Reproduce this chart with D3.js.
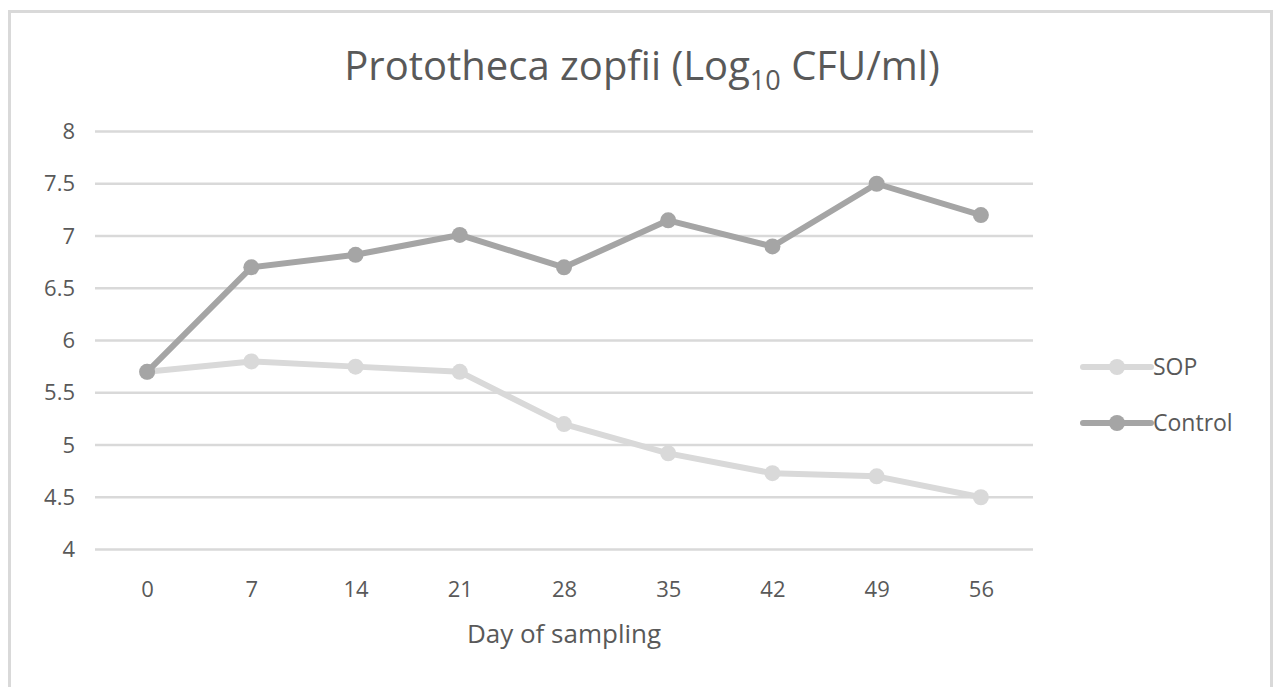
<!DOCTYPE html>
<html>
<head>
<meta charset="utf-8">
<script src="https://cdn.jsdelivr.net/npm/d3@7"></script>
<style>
  body { margin: 0; background: #fff; }
  text { font-family: "Open Sans", sans-serif; fill: #595959; }
</style>
</head>
<body>
<svg class="svg-chart" width="1274" height="687"></svg>
<script>
// chart values
var days = [0, 7, 14, 21, 28, 35, 42, 49, 56];
var sop = [5.7, 5.8, 5.75, 5.7, 5.2, 4.92, 4.73, 4.7, 4.5];
var control = [5.7, 6.7, 6.82, 7.01, 6.7, 7.15, 6.9, 7.5, 7.2];
var yTicks = [4, 4.5, 5, 5.5, 6, 6.5, 7, 7.5, 8];
var seriesNames = ["SOP", "Control"];
var seriesColors = ["#d9d9d9", "#a5a5a5"];

var svg = d3.select(".svg-chart");

// outer border
svg.append("rect")
  .attr("x", 9.5).attr("y", 11.5)
  .attr("width", 1262).attr("height", 690)
  .style("fill", "none")
  .style("stroke", "#d9d9d9")
  .style("stroke-width", 3);

var margin = {left: 95, top: 131.5},
    width = 1033 - 95,
    height = 549.5 - 131.5;

var x = d3.scalePoint()
  .domain(days)
  .range([0, width])
  .padding(0.5);

var y = d3.scaleLinear()
  .domain([4, 8])
  .range([height, 0]);

var g = svg.append("g")
  .attr("transform", "translate(" + margin.left + "," + margin.top + ")");

// gridlines
g.selectAll(".grid")
  .data(yTicks)
  .enter().append("line")
  .attr("x1", 0).attr("x2", width)
  .attr("y1", function(d) { return y(d); })
  .attr("y2", function(d) { return y(d); })
  .style("stroke", "#d9d9d9")
  .style("stroke-width", 2.5);

// y axis labels
var yAxis = d3.axisLeft(y).tickValues(yTicks).tickSize(0).tickPadding(20)
  .tickFormat(function(d) { return d; });
var yg = g.append("g").call(yAxis);
yg.select(".domain").remove();
yg.selectAll("text")
  .style("font-size", "22px")
  .style("font-family", "'Open Sans', sans-serif")
  .style("fill", "#595959");

// x axis labels
var xAxis = d3.axisBottom(x).tickSize(0).tickPadding(32);
var xg = g.append("g").attr("transform", "translate(0," + height + ")").call(xAxis);
xg.select(".domain").remove();
xg.selectAll("text")
  .style("font-size", "22px")
  .style("font-family", "'Open Sans', sans-serif")
  .style("fill", "#595959");

// axis title
svg.append("text")
  .attr("x", 564).attr("y", 643)
  .attr("text-anchor", "middle")
  .style("font-size", "26px")
  .text("Day of sampling");

// chart title
var title = svg.append("text")
  .attr("x", 642).attr("y", 80)
  .attr("text-anchor", "middle")
  .style("font-size", "40px");
title.append("tspan").text("Prototheca zopfii (Log");
title.append("tspan").attr("dy", 10).style("font-size", "27px").text("10");
title.append("tspan").attr("dy", -10).text(" CFU/ml)");

// series lines
var line = d3.line()
  .x(function(d, i) { return x(days[i]); })
  .y(function(d) { return y(d); });

[sop, control].forEach(function(vals, k) {
  g.append("path")
    .datum(vals)
    .attr("d", line)
    .style("fill", "none")
    .style("stroke", seriesColors[k])
    .style("stroke-width", 6)
    .style("stroke-linejoin", "round");
  g.selectAll(".dot" + k)
    .data(vals)
    .enter().append("circle")
    .attr("cx", function(d, i) { return x(days[i]); })
    .attr("cy", function(d) { return y(d); })
    .attr("r", 8)
    .style("fill", seriesColors[k]);
});

// legend
var legend = svg.append("g");
seriesNames.forEach(function(name, k) {
  var ly = 367 + k * 56;
  legend.append("line")
    .attr("x1", 1083).attr("x2", 1151)
    .attr("y1", ly).attr("y2", ly)
    .style("stroke", seriesColors[k])
    .style("stroke-width", 6)
    .style("stroke-linecap", "round");
  legend.append("circle")
    .attr("cx", 1117).attr("cy", ly).attr("r", 8)
    .style("fill", seriesColors[k]);
  legend.append("text")
    .attr("x", 1153).attr("y", ly + 8)
    .style("font-size", "23px")
    .text(name);
});
</script>
</body>
</html>
